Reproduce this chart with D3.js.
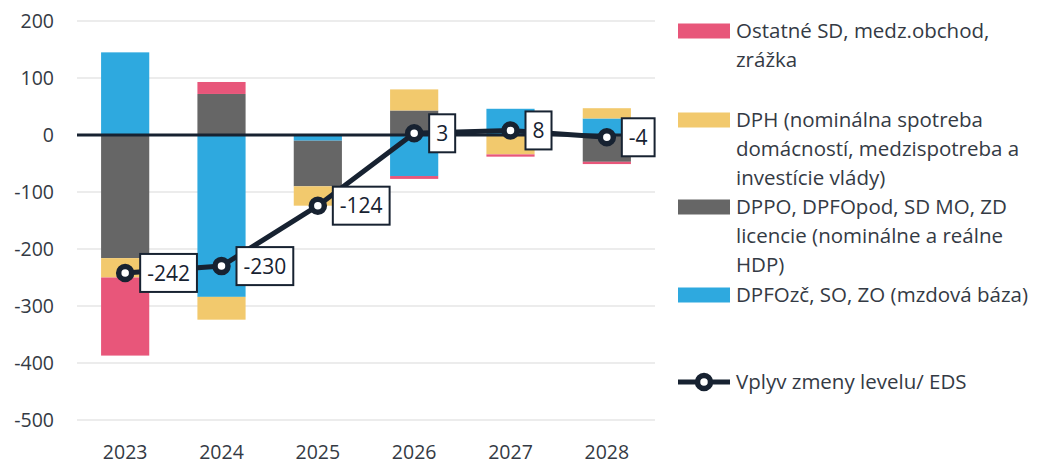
<!DOCTYPE html>
<meta charset="utf-8">
<style>
    body { margin: 0; background: #fff; }
    svg { font-family: "Open Sans", "Lato", sans-serif; }
    .grid line { stroke: #d9d9d9; stroke-width: 1; }
    .tick-label { fill: #343a44; font-size: 19.5px; }
    .legend text { fill: #343a44; font-size: 20.5px; }
    .pt-label { fill: #172231; font-size: 21px; }
</style>
<body>
<script src="https://cdn.jsdelivr.net/npm/d3@7"></script>
<script>
    const width = 1044;
    const height = 464;

    const years = ["2023", "2024", "2025", "2026", "2027", "2028"];
    // stacking order: blue, gray, yellow, pink
    const mzdovaBaza = [145, -284, -10, -72, 46, 29];
    const dppo = [-216, 72, -80, 43, 0, -47];
    const dph = [-34, -40, -34, 37, -34, 18];
    const ostatne = [-137, 21, 0, -5, -4, -4];
    const eds = [-242, -230, -124, 3, 8, -4];
    const yTicks = [200, 100, 0, -100, -200, -300, -400, -500];

    const series = [
        { key: "blue", values: mzdovaBaza, color: "#2ea9df", label: ["DPFOzč, SO, ZO (mzdová báza)"] },
        { key: "gray", values: dppo, color: "#666666", label: ["DPPO, DPFOpod, SD MO, ZD", "licencie (nominálne a reálne", "HDP)"] },
        { key: "yellow", values: dph, color: "#f2c96d", label: ["DPH (nominálna spotreba", "domácností, medzispotreba a", "investície vlády)"] },
        { key: "pink", values: ostatne, color: "#e8567a", label: ["Ostatné SD, medz.obchod,", "zrážka"] }
    ];
    const dark = "#172231";

    const svg = d3.select("body").append("svg")
        .attr("width", width)
        .attr("height", height);

    const x = d3.scaleBand().domain(years).range([77, 655]).paddingInner(0.5).paddingOuter(0.25);
    const y = d3.scaleLinear().domain([-500, 200]).range([420, 21]);

    // gridlines
    svg.append("g").attr("class", "grid")
        .selectAll("line")
        .data(yTicks.filter(d => d !== 0))
        .enter().append("line")
        .attr("x1", 77).attr("x2", 655)
        .attr("y1", d => y(d)).attr("y2", d => y(d));

    // y tick labels
    svg.append("g")
        .selectAll("text")
        .data(yTicks)
        .enter().append("text")
        .attr("class", "tick-label")
        .attr("x", 54)
        .attr("y", d => y(d))
        .attr("dy", "0.35em")
        .attr("text-anchor", "end")
        .text(d => d);

    // x labels
    svg.append("g")
        .selectAll("text")
        .data(years)
        .enter().append("text")
        .attr("class", "tick-label")
        .attr("x", d => x(d) + x.bandwidth() / 2)
        .attr("y", 452)
        .attr("dy", "0.35em")
        .attr("text-anchor", "middle")
        .text(d => d);

    // stacked bars
    const table = years.map((yr, i) => {
        const row = { year: yr };
        series.forEach(s => { row[s.key] = s.values[i]; });
        return row;
    });
    const stack = d3.stack()
        .keys(series.map(s => s.key))
        .offset(d3.stackOffsetDiverging);
    const stacked = stack(table);

    svg.append("g").selectAll("g")
        .data(stacked)
        .enter().append("g")
        .attr("fill", (d, i) => series[i].color)
        .selectAll("rect")
        .data(d => d)
        .enter().append("rect")
        .attr("x", d => x(d.data.year))
        .attr("width", x.bandwidth())
        .attr("y", d => y(Math.max(d[0], d[1])))
        .attr("height", d => Math.abs(y(d[0]) - y(d[1])));

    // zero line
    svg.append("line")
        .attr("x1", 77).attr("x2", 655)
        .attr("y1", y(0)).attr("y2", y(0))
        .attr("stroke", dark)
        .attr("stroke-width", 3);

    // EDS line
    const cx = d => x(d) + x.bandwidth() / 2;
    const line = d3.line()
        .x((d, i) => cx(years[i]))
        .y(d => y(d));

    svg.append("path")
        .datum(eds)
        .attr("fill", "none")
        .attr("stroke", dark)
        .attr("stroke-width", 5)
        .attr("d", line);

    svg.append("g").selectAll("circle")
        .data(eds)
        .enter().append("circle")
        .attr("cx", (d, i) => cx(years[i]))
        .attr("cy", d => y(d))
        .attr("r", 6.5)
        .attr("fill", "#fff")
        .attr("stroke", dark)
        .attr("stroke-width", 5.5);

    // value labels
    const labels = svg.append("g").selectAll("g")
        .data(eds)
        .enter().append("g")
        .attr("transform", (d, i) => `translate(${cx(years[i]) + 15},${y(d)})`);

    labels.append("text")
        .attr("class", "pt-label")
        .attr("x", 7)
        .attr("dy", "0.36em")
        .text(d => d);

    labels.each(function () {
        const g = d3.select(this);
        const w = g.select("text").node().getComputedTextLength();
        g.insert("rect", "text")
            .attr("x", 0)
            .attr("y", -19)
            .attr("width", w + 14)
            .attr("height", 38)
            .attr("fill", "#fff")
            .attr("stroke", dark)
            .attr("stroke-width", 2);
    });

    // legend
    const legend = svg.append("g").attr("class", "legend");
    const legendRows = [
        { s: series[3], y: 31 },
        { s: series[2], y: 120 },
        { s: series[1], y: 207 },
        { s: series[0], y: 295 }
    ];
    legendRows.forEach(r => {
        legend.append("rect")
            .attr("x", 678).attr("y", r.y - 7.5)
            .attr("width", 52).attr("height", 15)
            .attr("fill", r.s.color);
        r.s.label.forEach((t, j) => {
            legend.append("text")
                .attr("x", 736)
                .attr("y", r.y + j * 28.7)
                .attr("dy", "0.35em")
                .text(t);
        });
    });

    const ly = 382;
    legend.append("line")
        .attr("x1", 678).attr("x2", 730)
        .attr("y1", ly).attr("y2", ly)
        .attr("stroke", dark).attr("stroke-width", 5);
    legend.append("circle")
        .attr("cx", 704).attr("cy", ly).attr("r", 6.5)
        .attr("fill", "#fff").attr("stroke", dark).attr("stroke-width", 5.5);
    legend.append("text")
        .attr("x", 736).attr("y", ly).attr("dy", "0.35em")
        .text("Vplyv zmeny levelu/ EDS");
</script>
</body>
</html>
